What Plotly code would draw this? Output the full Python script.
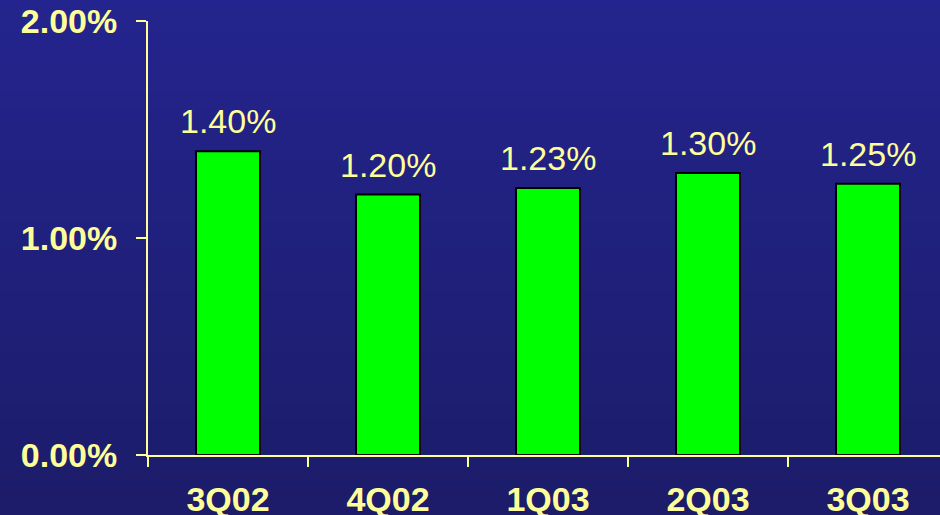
import plotly.graph_objects as go

categories = ["3Q02", "4Q02", "1Q03", "2Q03", "3Q03"]
values = [1.40, 1.20, 1.23, 1.30, 1.25]
value_labels = ["1.40%", "1.20%", "1.23%", "1.30%", "1.25%"]
y_tick_vals = [0, 1, 2]
y_tick_text = ["0.00%", "1.00%", "2.00%"]

YELLOW = "#ffff99"
FONT = "Liberation Sans, Arial, sans-serif"

W, H = 940, 515
ML, MR, MT, MB = 148, 0, 21, 60

fig = go.Figure()
fig.add_trace(go.Bar(
    x=categories, y=values, width=0.4,
    marker=dict(color="#00ff00", line=dict(color="black", width=2)),
    hoverinfo="skip",
))

for c, v, t in zip(categories, values, value_labels):
    fig.add_annotation(x=c, y=v, text=t, showarrow=False, yanchor="middle",
                       yshift=30, font=dict(family=FONT, size=34, color=YELLOW))

# background vertical gradient
top = (36, 36, 142)
bot = (28, 28, 106)
n = 60
ph = H - MT - MB
for i in range(n):
    f = i / (n - 1)
    col = tuple(round(top[k] + (bot[k] - top[k]) * f) for k in range(3))
    y1_px = i * H / n
    y0_px = (i + 1) * H / n
    y1 = (H - MB - y1_px) / ph
    y0 = (H - MB - y0_px) / ph
    fig.add_shape(type="rect", xref="paper", yref="paper",
                  x0=-ML / (W - ML - MR), x1=1.0, y0=y0 - 0.002, y1=y1 + 0.002,
                  fillcolor="rgb(%d,%d,%d)" % col, line=dict(width=0), layer="below")

fig.update_layout(
    width=W, height=H,
    margin=dict(l=ML, r=MR, t=MT, b=MB, autoexpand=False),
    paper_bgcolor="rgb(32,32,124)",
    plot_bgcolor="rgba(0,0,0,0)",
    showlegend=False,
    xaxis=dict(
        type="category", range=[-0.5, 4.45], automargin=False,
        showgrid=False, zeroline=False,
        showline=True, linecolor=YELLOW, linewidth=2,
        ticks="outside", tickson="boundaries", ticklen=10, tickwidth=2, tickcolor=YELLOW,
        tickfont=dict(family=FONT, size=34, color=YELLOW, weight="bold"),
        ticklabelstandoff=13,
    ),
    yaxis=dict(
        range=[0, 2], tickvals=y_tick_vals, ticktext=y_tick_text, automargin=False,
        showgrid=False, zeroline=False,
        showline=True, linecolor=YELLOW, linewidth=2,
        ticks="outside", ticklen=10, tickwidth=2, tickcolor=YELLOW,
        tickfont=dict(family=FONT, size=34, color=YELLOW, weight="bold"),
        ticklabelstandoff=12,
    ),
)

fig.write_html("out.html")
